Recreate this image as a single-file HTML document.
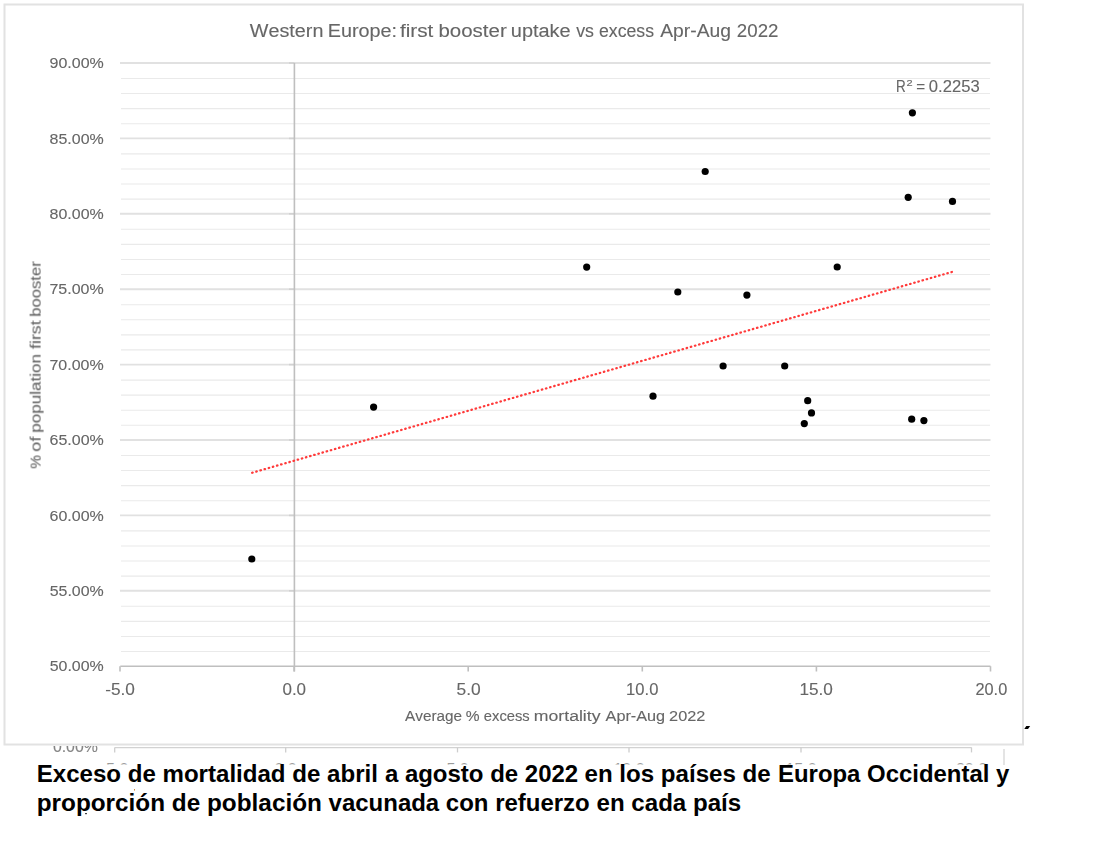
<!DOCTYPE html>
<html><head><meta charset="utf-8"><style>
html,body{margin:0;padding:0;background:#fff;width:1108px;height:842px;overflow:hidden;font-family:"Liberation Sans",sans-serif;}
svg{display:block}
</style></head><body>
<svg width="1108" height="842" viewBox="0 0 1108 842">
<defs><filter id="bl" x="-5%" y="-30%" width="110%" height="160%"><feGaussianBlur stdDeviation="0.45"/></filter></defs>
<rect x="4.5" y="4.5" width="1018.5" height="740" fill="#fff" stroke="#e2e2e2" stroke-width="2"/>
<line x1="121" y1="651.52" x2="990" y2="651.52" stroke="#eaeaea" stroke-width="1.1"/>
<line x1="121" y1="636.44" x2="990" y2="636.44" stroke="#eaeaea" stroke-width="1.1"/>
<line x1="121" y1="621.36" x2="990" y2="621.36" stroke="#eaeaea" stroke-width="1.1"/>
<line x1="121" y1="606.28" x2="990" y2="606.28" stroke="#eaeaea" stroke-width="1.1"/>
<line x1="121" y1="576.12" x2="990" y2="576.12" stroke="#eaeaea" stroke-width="1.1"/>
<line x1="121" y1="561.04" x2="990" y2="561.04" stroke="#eaeaea" stroke-width="1.1"/>
<line x1="121" y1="545.96" x2="990" y2="545.96" stroke="#eaeaea" stroke-width="1.1"/>
<line x1="121" y1="530.88" x2="990" y2="530.88" stroke="#eaeaea" stroke-width="1.1"/>
<line x1="121" y1="500.72" x2="990" y2="500.72" stroke="#eaeaea" stroke-width="1.1"/>
<line x1="121" y1="485.64" x2="990" y2="485.64" stroke="#eaeaea" stroke-width="1.1"/>
<line x1="121" y1="470.56" x2="990" y2="470.56" stroke="#eaeaea" stroke-width="1.1"/>
<line x1="121" y1="455.48" x2="990" y2="455.48" stroke="#eaeaea" stroke-width="1.1"/>
<line x1="121" y1="425.32" x2="990" y2="425.32" stroke="#eaeaea" stroke-width="1.1"/>
<line x1="121" y1="410.24" x2="990" y2="410.24" stroke="#eaeaea" stroke-width="1.1"/>
<line x1="121" y1="395.16" x2="990" y2="395.16" stroke="#eaeaea" stroke-width="1.1"/>
<line x1="121" y1="380.08" x2="990" y2="380.08" stroke="#eaeaea" stroke-width="1.1"/>
<line x1="121" y1="349.92" x2="990" y2="349.92" stroke="#eaeaea" stroke-width="1.1"/>
<line x1="121" y1="334.84" x2="990" y2="334.84" stroke="#eaeaea" stroke-width="1.1"/>
<line x1="121" y1="319.76" x2="990" y2="319.76" stroke="#eaeaea" stroke-width="1.1"/>
<line x1="121" y1="304.68" x2="990" y2="304.68" stroke="#eaeaea" stroke-width="1.1"/>
<line x1="121" y1="274.52" x2="990" y2="274.52" stroke="#eaeaea" stroke-width="1.1"/>
<line x1="121" y1="259.44" x2="990" y2="259.44" stroke="#eaeaea" stroke-width="1.1"/>
<line x1="121" y1="244.36" x2="990" y2="244.36" stroke="#eaeaea" stroke-width="1.1"/>
<line x1="121" y1="229.28" x2="990" y2="229.28" stroke="#eaeaea" stroke-width="1.1"/>
<line x1="121" y1="199.12" x2="990" y2="199.12" stroke="#eaeaea" stroke-width="1.1"/>
<line x1="121" y1="184.04" x2="990" y2="184.04" stroke="#eaeaea" stroke-width="1.1"/>
<line x1="121" y1="168.96" x2="990" y2="168.96" stroke="#eaeaea" stroke-width="1.1"/>
<line x1="121" y1="153.88" x2="990" y2="153.88" stroke="#eaeaea" stroke-width="1.1"/>
<line x1="121" y1="123.72" x2="990" y2="123.72" stroke="#eaeaea" stroke-width="1.1"/>
<line x1="121" y1="108.64" x2="990" y2="108.64" stroke="#eaeaea" stroke-width="1.1"/>
<line x1="121" y1="93.56" x2="990" y2="93.56" stroke="#eaeaea" stroke-width="1.1"/>
<line x1="121" y1="78.48" x2="990" y2="78.48" stroke="#eaeaea" stroke-width="1.1"/>
<line x1="120" y1="590.80" x2="990.5" y2="590.80" stroke="#e1e1e1" stroke-width="1.9"/>
<line x1="289" y1="590.80" x2="294.4" y2="590.80" stroke="#d2d2d2" stroke-width="1.6"/>
<line x1="120" y1="515.40" x2="990.5" y2="515.40" stroke="#e1e1e1" stroke-width="1.9"/>
<line x1="289" y1="515.40" x2="294.4" y2="515.40" stroke="#d2d2d2" stroke-width="1.6"/>
<line x1="120" y1="440.00" x2="990.5" y2="440.00" stroke="#e1e1e1" stroke-width="1.9"/>
<line x1="289" y1="440.00" x2="294.4" y2="440.00" stroke="#d2d2d2" stroke-width="1.6"/>
<line x1="120" y1="364.60" x2="990.5" y2="364.60" stroke="#e1e1e1" stroke-width="1.9"/>
<line x1="289" y1="364.60" x2="294.4" y2="364.60" stroke="#d2d2d2" stroke-width="1.6"/>
<line x1="120" y1="289.20" x2="990.5" y2="289.20" stroke="#e1e1e1" stroke-width="1.9"/>
<line x1="289" y1="289.20" x2="294.4" y2="289.20" stroke="#d2d2d2" stroke-width="1.6"/>
<line x1="120" y1="213.80" x2="990.5" y2="213.80" stroke="#e1e1e1" stroke-width="1.9"/>
<line x1="289" y1="213.80" x2="294.4" y2="213.80" stroke="#d2d2d2" stroke-width="1.6"/>
<line x1="120" y1="138.40" x2="990.5" y2="138.40" stroke="#e1e1e1" stroke-width="1.9"/>
<line x1="289" y1="138.40" x2="294.4" y2="138.40" stroke="#d2d2d2" stroke-width="1.6"/>
<line x1="120" y1="63.00" x2="990.5" y2="63.00" stroke="#e1e1e1" stroke-width="1.9"/>
<line x1="289" y1="63.00" x2="294.4" y2="63.00" stroke="#d2d2d2" stroke-width="1.6"/>
<line x1="294.4" y1="63" x2="294.4" y2="671.5" stroke="#bfbfbf" stroke-width="1.6"/>
<line x1="120.3" y1="666.2" x2="990.5" y2="666.2" stroke="#bfbfbf" stroke-width="1.6"/>
<line x1="120.00" y1="666.2" x2="120.00" y2="671.5" stroke="#bfbfbf" stroke-width="1.6"/>
<line x1="294.10" y1="666.2" x2="294.10" y2="671.5" stroke="#bfbfbf" stroke-width="1.6"/>
<line x1="468.20" y1="666.2" x2="468.20" y2="671.5" stroke="#bfbfbf" stroke-width="1.6"/>
<line x1="642.30" y1="666.2" x2="642.30" y2="671.5" stroke="#bfbfbf" stroke-width="1.6"/>
<line x1="816.40" y1="666.2" x2="816.40" y2="671.5" stroke="#bfbfbf" stroke-width="1.6"/>
<line x1="990.50" y1="666.2" x2="990.50" y2="671.5" stroke="#bfbfbf" stroke-width="1.6"/>
<line x1="251" y1="473.1" x2="953" y2="271.66" stroke="#ff3a3a" stroke-width="2.25" stroke-linecap="round" stroke-dasharray="0.5 3.805" stroke-dashoffset="3.098"/>
<circle cx="912.4" cy="112.8" r="3.6" fill="#000"/>
<circle cx="908.2" cy="197.3" r="3.6" fill="#000"/>
<circle cx="952.5" cy="201.4" r="3.6" fill="#000"/>
<circle cx="705.2" cy="171.5" r="3.6" fill="#000"/>
<circle cx="586.7" cy="267.1" r="3.6" fill="#000"/>
<circle cx="677.8" cy="292" r="3.6" fill="#000"/>
<circle cx="837.2" cy="267" r="3.6" fill="#000"/>
<circle cx="746.9" cy="295.1" r="3.6" fill="#000"/>
<circle cx="723.1" cy="366" r="3.6" fill="#000"/>
<circle cx="784.7" cy="366" r="3.6" fill="#000"/>
<circle cx="653" cy="396.2" r="3.6" fill="#000"/>
<circle cx="807.7" cy="400.7" r="3.6" fill="#000"/>
<circle cx="811.5" cy="412.9" r="3.6" fill="#000"/>
<circle cx="804.3" cy="423.6" r="3.6" fill="#000"/>
<circle cx="911.7" cy="419.2" r="3.6" fill="#000"/>
<circle cx="923.9" cy="420.6" r="3.6" fill="#000"/>
<circle cx="373.6" cy="407.1" r="3.6" fill="#000"/>
<circle cx="251.8" cy="559" r="3.6" fill="#000"/>
<text x="249.81" y="36.90" font-family="Liberation Sans, sans-serif" font-size="18.7" fill="#666666" stroke="#666666" stroke-width="0.12" filter="url(#bl)" textLength="73.67" lengthAdjust="spacingAndGlyphs" style="font-kerning:none">Western</text>
<text x="327.78" y="36.90" font-family="Liberation Sans, sans-serif" font-size="18.7" fill="#666666" stroke="#666666" stroke-width="0.12" filter="url(#bl)" textLength="69.33" lengthAdjust="spacingAndGlyphs" style="font-kerning:none">Europe:</text>
<text x="400.01" y="36.90" font-family="Liberation Sans, sans-serif" font-size="18.7" fill="#666666" stroke="#666666" stroke-width="0.12" filter="url(#bl)" textLength="33.34" lengthAdjust="spacingAndGlyphs" style="font-kerning:none">first</text>
<text x="438.48" y="36.90" font-family="Liberation Sans, sans-serif" font-size="18.7" fill="#666666" stroke="#666666" stroke-width="0.12" filter="url(#bl)" textLength="68.26" lengthAdjust="spacingAndGlyphs" style="font-kerning:none">booster</text>
<text x="510.80" y="36.90" font-family="Liberation Sans, sans-serif" font-size="18.7" fill="#666666" stroke="#666666" stroke-width="0.12" filter="url(#bl)" textLength="59.88" lengthAdjust="spacingAndGlyphs" style="font-kerning:none">uptake</text>
<text x="576.14" y="36.90" font-family="Liberation Sans, sans-serif" font-size="18.7" fill="#666666" stroke="#666666" stroke-width="0.12" filter="url(#bl)" textLength="17.80" lengthAdjust="spacingAndGlyphs" style="font-kerning:none">vs</text>
<text x="599.05" y="36.90" font-family="Liberation Sans, sans-serif" font-size="18.7" fill="#666666" stroke="#666666" stroke-width="0.12" filter="url(#bl)" textLength="54.99" lengthAdjust="spacingAndGlyphs" style="font-kerning:none">excess</text>
<text x="660.26" y="36.90" font-family="Liberation Sans, sans-serif" font-size="18.7" fill="#666666" stroke="#666666" stroke-width="0.12" filter="url(#bl)" textLength="70.78" lengthAdjust="spacingAndGlyphs" style="font-kerning:none">Apr-Aug</text>
<text x="736.86" y="36.90" font-family="Liberation Sans, sans-serif" font-size="18.7" fill="#666666" stroke="#666666" stroke-width="0.12" filter="url(#bl)" textLength="41.58" lengthAdjust="spacingAndGlyphs" style="font-kerning:none">2022</text>
<text x="49.66" y="671.30" font-family="Liberation Sans, sans-serif" font-size="15.4" fill="#666666" stroke="#666666" stroke-width="0.12" filter="url(#bl)" textLength="54.11" lengthAdjust="spacingAndGlyphs" style="font-kerning:none">50.00%</text>
<text x="49.66" y="595.90" font-family="Liberation Sans, sans-serif" font-size="15.4" fill="#666666" stroke="#666666" stroke-width="0.12" filter="url(#bl)" textLength="54.11" lengthAdjust="spacingAndGlyphs" style="font-kerning:none">55.00%</text>
<text x="49.49" y="520.50" font-family="Liberation Sans, sans-serif" font-size="15.4" fill="#666666" stroke="#666666" stroke-width="0.12" filter="url(#bl)" textLength="54.28" lengthAdjust="spacingAndGlyphs" style="font-kerning:none">60.00%</text>
<text x="49.49" y="445.10" font-family="Liberation Sans, sans-serif" font-size="15.4" fill="#666666" stroke="#666666" stroke-width="0.12" filter="url(#bl)" textLength="54.28" lengthAdjust="spacingAndGlyphs" style="font-kerning:none">65.00%</text>
<text x="49.48" y="369.70" font-family="Liberation Sans, sans-serif" font-size="15.4" fill="#666666" stroke="#666666" stroke-width="0.12" filter="url(#bl)" textLength="54.29" lengthAdjust="spacingAndGlyphs" style="font-kerning:none">70.00%</text>
<text x="49.48" y="294.30" font-family="Liberation Sans, sans-serif" font-size="15.4" fill="#666666" stroke="#666666" stroke-width="0.12" filter="url(#bl)" textLength="54.29" lengthAdjust="spacingAndGlyphs" style="font-kerning:none">75.00%</text>
<text x="49.61" y="218.90" font-family="Liberation Sans, sans-serif" font-size="15.4" fill="#666666" stroke="#666666" stroke-width="0.12" filter="url(#bl)" textLength="54.16" lengthAdjust="spacingAndGlyphs" style="font-kerning:none">80.00%</text>
<text x="49.61" y="143.50" font-family="Liberation Sans, sans-serif" font-size="15.4" fill="#666666" stroke="#666666" stroke-width="0.12" filter="url(#bl)" textLength="54.16" lengthAdjust="spacingAndGlyphs" style="font-kerning:none">85.00%</text>
<text x="49.55" y="68.10" font-family="Liberation Sans, sans-serif" font-size="15.4" fill="#666666" stroke="#666666" stroke-width="0.12" filter="url(#bl)" textLength="54.22" lengthAdjust="spacingAndGlyphs" style="font-kerning:none">90.00%</text>
<text x="105.24" y="694.90" font-family="Liberation Sans, sans-serif" font-size="16" fill="#666666" stroke="#666666" stroke-width="0.12" filter="url(#bl)" textLength="29.64" lengthAdjust="spacingAndGlyphs" style="font-kerning:none">-5.0</text>
<text x="282.44" y="694.90" font-family="Liberation Sans, sans-serif" font-size="16" fill="#666666" stroke="#666666" stroke-width="0.12" filter="url(#bl)" textLength="23.63" lengthAdjust="spacingAndGlyphs" style="font-kerning:none">0.0</text>
<text x="456.60" y="694.90" font-family="Liberation Sans, sans-serif" font-size="16" fill="#666666" stroke="#666666" stroke-width="0.12" filter="url(#bl)" textLength="24.18" lengthAdjust="spacingAndGlyphs" style="font-kerning:none">5.0</text>
<text x="626.14" y="694.90" font-family="Liberation Sans, sans-serif" font-size="16" fill="#666666" stroke="#666666" stroke-width="0.12" filter="url(#bl)" textLength="32.21" lengthAdjust="spacingAndGlyphs" style="font-kerning:none">10.0</text>
<text x="799.49" y="694.90" font-family="Liberation Sans, sans-serif" font-size="16" fill="#666666" stroke="#666666" stroke-width="0.12" filter="url(#bl)" textLength="33.38" lengthAdjust="spacingAndGlyphs" style="font-kerning:none">15.0</text>
<text x="975.48" y="694.90" font-family="Liberation Sans, sans-serif" font-size="16" fill="#666666" stroke="#666666" stroke-width="0.12" filter="url(#bl)" textLength="31.76" lengthAdjust="spacingAndGlyphs" style="font-kerning:none">20.0</text>
<text x="405.07" y="721.20" font-family="Liberation Sans, sans-serif" font-size="15.5" fill="#666666" stroke="#666666" stroke-width="0.12" filter="url(#bl)" textLength="57.01" lengthAdjust="spacingAndGlyphs" style="font-kerning:none">Average</text>
<text x="465.85" y="721.20" font-family="Liberation Sans, sans-serif" font-size="15.5" fill="#666666" stroke="#666666" stroke-width="0.12" filter="url(#bl)" textLength="13.81" lengthAdjust="spacingAndGlyphs" style="font-kerning:none">%</text>
<text x="483.87" y="721.20" font-family="Liberation Sans, sans-serif" font-size="15.5" fill="#666666" stroke="#666666" stroke-width="0.12" filter="url(#bl)" textLength="45.86" lengthAdjust="spacingAndGlyphs" style="font-kerning:none">excess</text>
<text x="533.83" y="721.20" font-family="Liberation Sans, sans-serif" font-size="15.5" fill="#666666" stroke="#666666" stroke-width="0.12" filter="url(#bl)" textLength="66.71" lengthAdjust="spacingAndGlyphs" style="font-kerning:none">mortality</text>
<text x="605.57" y="721.20" font-family="Liberation Sans, sans-serif" font-size="15.5" fill="#666666" stroke="#666666" stroke-width="0.12" filter="url(#bl)" textLength="59.58" lengthAdjust="spacingAndGlyphs" style="font-kerning:none">Apr-Aug</text>
<text x="669.08" y="721.20" font-family="Liberation Sans, sans-serif" font-size="15.5" fill="#666666" stroke="#666666" stroke-width="0.12" filter="url(#bl)" textLength="36.24" lengthAdjust="spacingAndGlyphs" style="font-kerning:none">2022</text>
<g transform="translate(40.6,468.3) rotate(-90)">
<text x="-0.55" y="0.00" font-family="Liberation Sans, sans-serif" font-size="15.5" fill="#666666" stroke="#666666" stroke-width="0.12" filter="url(#bl)" textLength="13.70" lengthAdjust="spacingAndGlyphs" style="font-kerning:none">%</text>
<text x="16.64" y="0.00" font-family="Liberation Sans, sans-serif" font-size="15.5" fill="#666666" stroke="#666666" stroke-width="0.12" filter="url(#bl)" textLength="15.03" lengthAdjust="spacingAndGlyphs" style="font-kerning:none">of</text>
<text x="35.60" y="0.00" font-family="Liberation Sans, sans-serif" font-size="15.5" fill="#666666" stroke="#666666" stroke-width="0.12" filter="url(#bl)" textLength="78.60" lengthAdjust="spacingAndGlyphs" style="font-kerning:none">population</text>
<text x="119.35" y="0.00" font-family="Liberation Sans, sans-serif" font-size="15.5" fill="#666666" stroke="#666666" stroke-width="0.12" filter="url(#bl)" textLength="28.58" lengthAdjust="spacingAndGlyphs" style="font-kerning:none">first</text>
<text x="151.63" y="0.00" font-family="Liberation Sans, sans-serif" font-size="15.5" fill="#666666" stroke="#666666" stroke-width="0.12" filter="url(#bl)" textLength="55.34" lengthAdjust="spacingAndGlyphs" style="font-kerning:none">booster</text>
</g>
<text x="896.09" y="91.70" font-family="Liberation Sans, sans-serif" font-size="16" fill="#666666" stroke="#666666" stroke-width="0.12" filter="url(#bl)" textLength="9.73" lengthAdjust="spacingAndGlyphs" style="font-kerning:none">R</text>
<text x="906.45" y="85.70" font-family="Liberation Sans, sans-serif" font-size="9.6" fill="#666666" stroke="#666666" stroke-width="0.12" filter="url(#bl)" textLength="6.10" lengthAdjust="spacingAndGlyphs" style="font-kerning:none">2</text>
<text x="916.26" y="91.70" font-family="Liberation Sans, sans-serif" font-size="16" fill="#666666" stroke="#666666" stroke-width="0.12" filter="url(#bl)" textLength="8.89" lengthAdjust="spacingAndGlyphs" style="font-kerning:none">=</text>
<text x="928.85" y="91.70" font-family="Liberation Sans, sans-serif" font-size="16" fill="#666666" stroke="#666666" stroke-width="0.12" filter="url(#bl)" textLength="50.78" lengthAdjust="spacingAndGlyphs" style="font-kerning:none">0.2253</text>
<line x1="114.7" y1="747.6" x2="971.7" y2="747.6" stroke="#d2d2d2" stroke-width="1.2"/>
<line x1="114.7" y1="747.6" x2="114.7" y2="752.4" stroke="#cdcdcd" stroke-width="1.3"/>
<line x1="285.7" y1="747.6" x2="285.7" y2="752.4" stroke="#cdcdcd" stroke-width="1.3"/>
<line x1="457.5" y1="747.6" x2="457.5" y2="752.4" stroke="#cdcdcd" stroke-width="1.3"/>
<line x1="629" y1="747.6" x2="629" y2="752.4" stroke="#cdcdcd" stroke-width="1.3"/>
<line x1="801" y1="747.6" x2="801" y2="752.4" stroke="#cdcdcd" stroke-width="1.3"/>
<line x1="971.5" y1="747.6" x2="971.5" y2="752.4" stroke="#cdcdcd" stroke-width="1.3"/>
<line x1="1004" y1="749" x2="1004" y2="765" stroke="#e0e0e0" stroke-width="1.7"/>
<clipPath id="c1"><rect x="0" y="746" width="1108" height="10"/></clipPath>
<text x="52.88" y="752.30" font-family="Liberation Sans, sans-serif" font-size="16" fill="#858585" stroke="#858585" stroke-width="0.12" filter="url(#bl)" textLength="44.99" lengthAdjust="spacingAndGlyphs" style="font-kerning:none" clip-path="url(#c1)">0.00%</text>
<clipPath id="c2"><rect x="0" y="763.0" width="1108" height="1.4"/></clipPath>
<text x="114.5" y="775.2" font-family="Liberation Sans, sans-serif" font-size="16" fill="#9a9a9a" text-anchor="middle" clip-path="url(#c2)">-5.0</text>
<text x="285.5" y="775.2" font-family="Liberation Sans, sans-serif" font-size="16" fill="#9a9a9a" text-anchor="middle" clip-path="url(#c2)">0.0</text>
<text x="457.5" y="775.2" font-family="Liberation Sans, sans-serif" font-size="16" fill="#9a9a9a" text-anchor="middle" clip-path="url(#c2)">5.0</text>
<text x="629" y="775.2" font-family="Liberation Sans, sans-serif" font-size="16" fill="#9a9a9a" text-anchor="middle" clip-path="url(#c2)">10.0</text>
<text x="801" y="775.2" font-family="Liberation Sans, sans-serif" font-size="16" fill="#9a9a9a" text-anchor="middle" clip-path="url(#c2)">15.0</text>
<text x="971.5" y="775.2" font-family="Liberation Sans, sans-serif" font-size="16" fill="#9a9a9a" text-anchor="middle" clip-path="url(#c2)">20.0</text>
<path d="M1026.3 726.1 L1030.2 726.1 L1028 728.9 L1024.3 728.9 Z" fill="#000"/>
<text x="36.69" y="781.80" font-family="Liberation Sans, sans-serif" font-weight="bold" font-size="23.3" fill="#000" textLength="341.22" lengthAdjust="spacingAndGlyphs" style="font-kerning:none">Exceso de mortalidad de abril</text>
<text x="384.90" y="781.80" font-family="Liberation Sans, sans-serif" font-weight="bold" font-size="23.3" fill="#000" textLength="193.26" lengthAdjust="spacingAndGlyphs" style="font-kerning:none">a agosto de 2022</text>
<text x="584.56" y="781.80" font-family="Liberation Sans, sans-serif" font-weight="bold" font-size="23.3" fill="#000" textLength="186.16" lengthAdjust="spacingAndGlyphs" style="font-kerning:none">en los países de</text>
<text x="778.00" y="781.80" font-family="Liberation Sans, sans-serif" font-weight="bold" font-size="23.3" fill="#000" textLength="231.33" lengthAdjust="spacingAndGlyphs" style="font-kerning:none">Europa Occidental y</text>
<text x="36.70" y="810.80" font-family="Liberation Sans, sans-serif" font-weight="bold" font-size="23.3" fill="#000" textLength="285.21" lengthAdjust="spacingAndGlyphs" style="font-kerning:none">proporción de población</text>
<text x="328.61" y="810.80" font-family="Liberation Sans, sans-serif" font-weight="bold" font-size="23.3" fill="#000" textLength="261.13" lengthAdjust="spacingAndGlyphs" style="font-kerning:none">vacunada con refuerzo</text>
<text x="596.56" y="810.80" font-family="Liberation Sans, sans-serif" font-weight="bold" font-size="23.3" fill="#000" textLength="144.63" lengthAdjust="spacingAndGlyphs" style="font-kerning:none">en cada país</text>
<rect x="85" y="813" width="2" height="1.2" fill="#444"/>
<rect x="134" y="789" width="1" height="1.6" fill="#d08a40"/>
</svg>
</body></html>
